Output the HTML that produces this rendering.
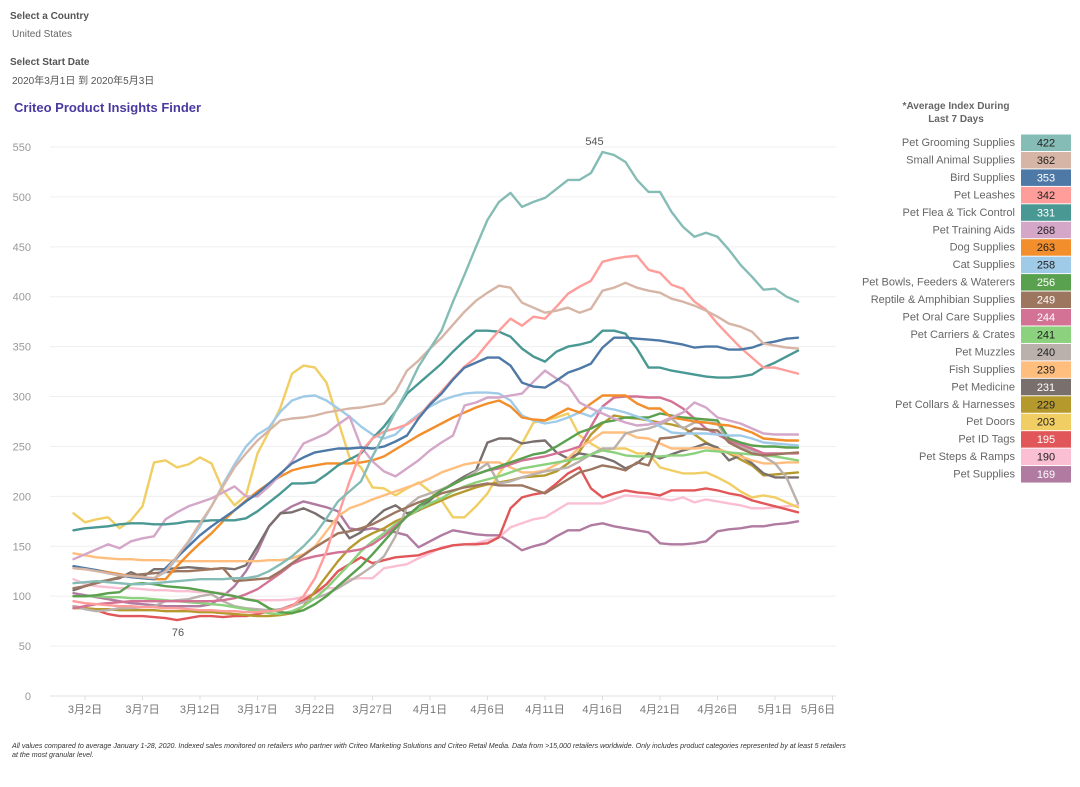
<!DOCTYPE html>
<html><head><meta charset="utf-8"><style>
body{margin:0;width:1080px;height:787px;background:#fff;font-family:"Liberation Sans","Noto Sans CJK SC",sans-serif;overflow:hidden;position:relative}
.t{position:absolute;white-space:nowrap}
</style></head><body>
<div class="t" style="left:10px;top:11px;font-size:10px;font-weight:bold;color:#555">Select a Country</div>
<div class="t" style="left:12px;top:29px;font-size:10px;color:#666">United States</div>
<div class="t" style="left:10px;top:57px;font-size:10px;font-weight:bold;color:#555">Select Start Date</div>
<div class="t" style="left:12px;top:72px;font-size:10px;color:#555">2020年3月1日 到 2020年5月3日</div>
<div class="t" style="left:14px;top:100px;font-size:13px;font-weight:bold;color:#4a3aa0">Criteo Product Insights Finder</div>
<div class="t" style="left:880px;top:100px;width:152px;text-align:center;font-size:10px;font-weight:bold;color:#666;line-height:13px">*Average Index During<br>Last 7 Days</div>
<div class="t" style="left:12px;top:742px;font-size:7.1px;font-style:italic;color:#333;line-height:9px">All values compared to average January 1-28, 2020. Indexed sales monitored on retailers who partner with Criteo Marketing Solutions and Criteo Retail Media. Data from &gt;15,000 retailers worldwide. Only includes product categories represented by at least 5 retailers<br>at the most granular level.</div>
<svg id="chart" width="1080" height="787" style="position:absolute;left:0;top:0"></svg>
<script>
const names=["Pet Grooming Supplies","Small Animal Supplies","Bird Supplies","Pet Leashes","Pet Flea & Tick Control","Pet Training Aids","Dog Supplies","Cat Supplies","Pet Bowls, Feeders & Waterers","Reptile & Amphibian Supplies","Pet Oral Care Supplies","Pet Carriers & Crates","Pet Muzzles","Fish Supplies","Pet Medicine","Pet Collars & Harnesses","Pet Doors","Pet ID Tags","Pet Steps & Ramps","Pet Supplies"];
const colors=["#86bcb6","#d7b5a6","#4e79a7","#ff9d9a","#499894","#d4a6c8","#f28e2b","#a0cbe8","#59a14f","#9d7660","#d37295","#8cd17d","#bab0ac","#ffbe7d","#79706e","#b6992d","#f1ce63","#e15759","#fabfd2","#b07aa1"];
const avgValues=[422,362,353,342,331,268,263,258,256,249,244,241,240,239,231,229,203,195,190,169];
const darkText=[1,1,0,1,0,1,1,1,0,0,0,1,1,1,0,1,1,0,1,0];
const yTicks=[0,50,100,150,200,250,300,350,400,450,500,550];
const xTickDays=[1,6,11,16,21,26,31,36,41,46,51,56,61,66];
const xTickLabels=["3月2日","3月7日","3月12日","3月17日","3月22日","3月27日","4月1日","4月6日","4月11日","4月16日","4月21日","4月26日","5月1日","5月6日"];
const sGrooming=[113,114,115,114,113,112,112,113,114,115,116,117,117,117,118,118,120,125,132,140,150,162,178,195,205,215,240,262,285,306,330,348,366,395,422,450,477,495,504,490,495,499,508,517,517,524,545,542,535,517,505,505,485,470,460,464,460,447,432,420,407,408,400,395];
const sSmallAnimal=[128,127,125,123,121,120,119,118,125,140,155,173,190,210,229,243,256,266,276,278,279,281,284,286,288,289,291,293,305,326,336,348,359,372,385,396,404,411,409,394,389,384,386,389,384,388,406,409,414,409,406,404,398,395,391,386,380,373,370,365,353,351,349,348];
const sBird=[130,128,126,123,121,119,118,117,128,139,150,161,170,178,186,195,203,213,223,233,239,244,246,248,248,249,248,250,255,261,278,292,303,317,329,334,339,339,331,314,310,309,316,324,328,333,349,359,359,358,357,356,354,352,349,350,350,347,347,349,353,355,358,359];
const sLeashes=[95,93,92,91,90,90,89,89,88,88,87,86,86,85,85,84,84,85,86,90,100,118,145,180,215,245,258,265,268,272,280,293,305,318,330,339,353,366,378,371,380,378,390,403,410,416,435,438,440,441,427,424,412,408,395,387,373,361,349,339,329,329,326,323];
const sFlea=[166,168,169,170,172,173,173,172,172,173,175,175,176,176,176,178,185,194,203,213,213,214,222,231,237,243,258,270,285,303,313,323,333,345,356,366,366,365,360,348,340,335,345,350,352,355,366,366,363,348,329,329,326,324,322,320,319,319,320,322,329,334,340,346];
const sTraining=[137,142,147,152,148,155,158,160,177,184,190,194,198,204,210,200,200,210,222,235,253,258,263,272,280,250,235,225,220,228,236,246,254,261,291,294,299,299,301,303,315,326,318,311,294,288,283,278,274,271,272,274,279,284,294,289,279,276,273,268,263,262,262,262];
const sDog=[128,127,126,124,122,120,118,117,117,130,142,153,163,175,186,196,205,213,220,226,229,231,233,233,233,234,236,240,247,254,261,267,273,279,284,289,293,296,290,279,277,276,282,288,284,293,301,301,301,293,288,288,279,277,275,274,272,271,268,264,258,257,256,256];
const sCat=[130,128,126,124,122,120,119,118,124,138,153,170,190,212,232,250,262,269,285,296,300,301,296,288,280,270,262,258,262,273,282,290,296,300,303,304,304,303,296,281,276,273,275,279,284,280,289,287,284,280,276,270,264,263,263,263,262,261,261,258,254,253,252,251];
const sBowls=[100,100,101,103,104,112,113,112,110,109,108,106,104,102,100,97,95,88,84,83,86,92,100,110,120,130,142,155,168,180,190,198,206,212,218,222,226,230,234,238,242,244,250,257,264,268,274,276,279,279,279,283,281,279,278,277,276,258,254,251,250,250,249,249];
const sReptile=[108,110,113,116,119,121,122,123,124,125,125,126,127,128,115,116,117,118,125,133,141,149,156,163,165,168,172,178,184,189,194,198,203,206,209,211,213,211,211,211,207,203,210,217,224,227,231,229,226,234,231,258,259,261,268,267,266,254,248,243,241,242,243,244];
const sOral=[88,90,92,93,94,95,95,95,95,95,95,95,95,96,98,102,107,115,123,132,137,140,142,144,145,147,152,160,170,180,190,198,206,212,218,222,226,228,232,236,238,240,243,246,250,270,290,299,300,300,299,299,295,288,278,268,262,256,252,248,243,243,243,243];
const sCarriers=[100,100,100,99,99,98,98,97,96,95,94,93,92,91,89,87,85,83,82,85,90,98,108,120,132,145,155,163,172,180,187,193,198,205,210,214,217,220,224,228,230,232,234,236,238,242,246,244,241,240,240,240,241,241,243,246,245,244,243,242,241,240,238,236];
const sMuzzles=[90,87,85,86,88,88,89,90,95,96,97,100,102,95,90,88,87,86,87,90,94,98,102,108,115,122,130,140,160,190,199,203,207,212,218,225,233,213,215,219,222,225,227,229,235,242,248,248,263,266,268,272,278,268,274,274,273,254,250,246,240,233,219,193];
const sFish=[143,141,139,138,137,137,136,136,136,135,135,135,135,135,135,135,135,136,136,138,142,150,165,180,188,192,197,201,205,209,213,218,224,228,232,234,234,234,229,224,224,226,232,238,249,256,264,264,264,259,258,253,248,248,248,249,247,244,240,236,233,233,234,234];
const sMedicine=[106,110,114,116,118,124,119,127,127,128,129,128,127,128,127,131,150,170,183,184,188,183,176,174,158,164,176,186,191,183,186,196,206,213,220,226,254,258,258,253,255,256,244,238,243,241,239,235,228,233,243,238,242,246,249,253,249,236,241,233,223,219,219,219];
const sCollars=[88,88,87,87,86,86,86,86,85,85,85,84,84,83,82,81,80,80,81,83,90,105,120,135,148,157,163,168,175,180,186,191,196,201,205,209,212,214,216,219,220,221,225,233,245,262,273,281,279,278,276,274,272,269,262,254,248,243,237,231,221,222,223,224];
const sDoors=[183,174,177,179,168,176,190,234,236,229,232,239,233,206,191,201,243,265,289,323,331,329,314,276,239,229,209,208,201,208,214,205,196,179,179,190,203,223,238,253,274,276,279,283,261,253,246,248,248,243,243,229,226,223,223,224,219,213,205,199,201,199,194,189];
const sIdTags=[90,88,86,82,80,80,80,79,78,76,78,80,80,79,80,80,82,85,87,91,96,103,112,125,132,139,133,136,139,140,141,145,148,151,152,152,153,159,188,199,202,204,213,223,229,208,199,203,206,204,203,201,206,206,206,208,206,203,201,196,193,190,187,184];
const sSteps=[117,112,110,109,108,108,107,106,106,105,105,104,104,103,100,97,96,96,96,97,99,103,108,108,117,118,118,128,130,132,138,143,149,151,152,153,156,159,169,173,177,179,186,193,193,193,193,197,201,200,199,198,196,199,194,197,195,193,191,188,188,189,190,191];
const sSupplies=[103,101,99,97,95,93,92,91,90,90,90,90,92,100,110,125,145,170,183,190,195,192,189,185,168,166,168,166,164,161,149,155,161,166,164,162,161,161,154,146,150,153,160,166,166,171,173,170,168,166,164,153,152,152,153,155,165,167,168,170,170,172,173,175];
const series=[sGrooming,sSmallAnimal,sBird,sLeashes,sFlea,sTraining,sDog,sCat,sBowls,sReptile,sOral,sCarriers,sMuzzles,sFish,sMedicine,sCollars,sDoors,sIdTags,sSteps,sSupplies];

const NS="http://www.w3.org/2000/svg";
const svg=document.getElementById('chart');
const X0=50,X1=836,Y0=696,YTOP=147;
function xs(d){return 73.5+d*11.5;}
function ys(v){return Y0-v*(Y0-YTOP)/550;}
function mk(tag,attrs,parent){const e=document.createElementNS(NS,tag);for(const k in attrs)e.setAttribute(k,attrs[k]);(parent||svg).appendChild(e);return e;}

yTicks.forEach(v=>{
  const g=mk('line',{x1:X0,x2:X1,y1:ys(v),y2:ys(v),stroke:v===0?'#e2e2e2':'#efefef','stroke-width':1});
  
  
  const t=mk('text',{x:31,y:ys(v)+4,'text-anchor':'end','font-size':11,fill:'#999','font-family':'Liberation Sans, sans-serif'});
  t.textContent=v;
  
  
});
xTickDays.forEach((d,i)=>{
  let x=xs(d); if(i===xTickDays.length-1)x=818;
  const tk=mk('line',{x1:xs(d),x2:xs(d),y1:Y0,y2:Y0+4,stroke:'#ddd'});
  
  
  const t=mk('text',{x:x,y:713,'text-anchor':'middle','font-size':11,fill:'#777','font-family':'Liberation Sans, Noto Sans CJK SC, sans-serif'});
  t.textContent=xTickLabels[i];
  
  
});
for(let i=series.length-1;i>=0;i--){
  const pts=series[i].map((v,d)=>xs(d).toFixed(1)+','+ys(v).toFixed(1)).join(' ');
  const p=mk('polyline',{points:pts,fill:'none',stroke:colors[i],'stroke-width':2.4,'stroke-linejoin':'round','stroke-linecap':'round'});
  
  
}
let maxV=-1,maxD=0;sGrooming.forEach((v,d)=>{if(v>maxV){maxV=v;maxD=d;}});
const mt=mk('text',{x:xs(maxD)-8,y:ys(maxV)-7,'text-anchor':'middle','font-size':11,fill:'#555','font-family':'Liberation Sans, sans-serif'});
mt.textContent=maxV;


let minV=1e9,minD=0;sIdTags.forEach((v,d)=>{if(v<minV){minV=v;minD=d;}});
const mnt=mk('text',{x:xs(minD)+1,y:ys(minV)+16,'text-anchor':'middle','font-size':11,fill:'#555','font-family':'Liberation Sans, sans-serif'});
mnt.textContent=minV;


names.forEach((n,i)=>{
  const y=134+i*17.45;
  const t=mk('text',{x:1015,y:y+12,'text-anchor':'end','font-size':11,fill:'#666','font-family':'Liberation Sans, sans-serif'});
  t.textContent=n;
  
  
  const r=mk('rect',{x:1021,y:y+0.5,width:50,height:16.5,fill:colors[i]});
  
  
  const v=mk('text',{x:1046,y:y+12.5,'text-anchor':'middle','font-size':11,fill:darkText[i]?'#222':'#fff','font-family':'Liberation Sans, sans-serif'});
  v.textContent=avgValues[i];
  
  
});
</script>
</body></html>
